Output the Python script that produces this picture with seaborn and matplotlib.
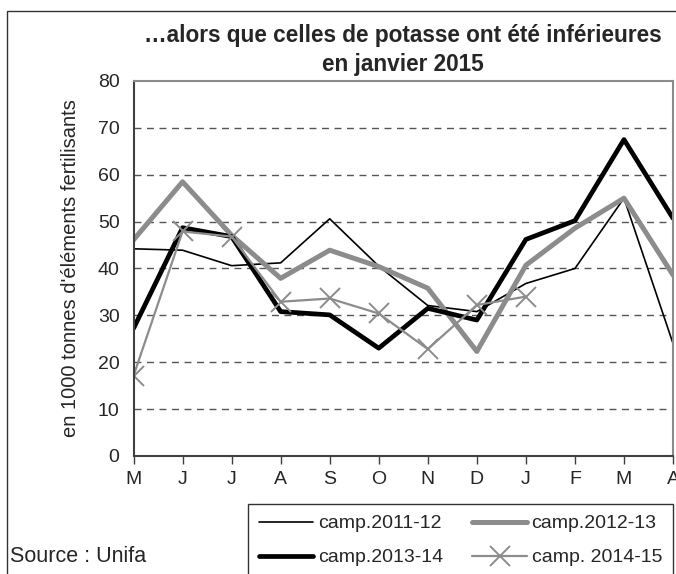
import numpy as np
import pandas as pd
import matplotlib.pyplot as plt
import seaborn as sns
from matplotlib.patches import Rectangle

# data (1000 t of fertilizer elements)
months = ["M", "J", "J", "A", "S", "O", "N", "D", "J", "F", "M", "A"]
camp_2011_12 = [44.2, 43.9, 40.6, 41.2, 50.6, 40.5, 32.1, 30.8, 36.8, 40.0, 55.0, 24.0]
camp_2012_13 = [46.1, 58.5, 47.1, 37.9, 43.9, 40.4, 35.8, 22.3, 40.7, 48.6, 55.0, 38.6]
camp_2013_14 = [27.2, 48.7, 46.8, 30.8, 30.1, 23.0, 31.5, 29.0, 46.2, 50.2, 67.5, 50.7]
camp_2014_15 = [17.1, 47.9, 46.8, 32.9, 33.6, 30.4, 22.8, 32.2, 34.0, np.nan, np.nan, np.nan]

labels = ["camp.2011-12", "camp.2012-13", "camp.2013-14", "camp. 2014-15"]

x = np.arange(len(months))
df = pd.DataFrame({
    "x": np.tile(x, 4),
    "val": camp_2011_12 + camp_2012_13 + camp_2013_14 + camp_2014_15,
    "serie": np.repeat(labels, len(months)),
})

sns.set_style("white")
plt.rcParams['font.family'] = ['Liberation Sans', 'DejaVu Sans']

fig = plt.figure(figsize=(6.76, 5.74), dpi=100)
ax = fig.add_axes([0.1975, 0.2056, 0.7981, 0.6533])

grey = "#8c8c8c"
styles = {
    "camp.2011-12": dict(color="black", linewidth=1.2),
    "camp.2012-13": dict(color=grey, linewidth=3.6),
    "camp.2013-14": dict(color="black", linewidth=3.4),
    "camp. 2014-15": dict(color=grey, linewidth=1.6, marker="x", markersize=14,
                          markeredgewidth=1.4, markeredgecolor=grey),
}
for lab in labels:
    sub = df[df["serie"] == lab].dropna()
    sns.lineplot(data=sub, x="x", y="val", ax=ax, label=lab, **styles[lab])

ax.set_xlim(0, 11)
ax.set_ylim(0, 80)
ax.set_yticks(range(0, 81, 10))
ax.set_xticks(x)
ax.set_xticklabels(months)
ax.set_xlabel("")
ax.set_ylabel("en 1000 tonnes d'éléments fertilisants", fontsize=14.5, labelpad=13)
ax.tick_params(axis="y", direction="inout", length=12, width=1, color="#404040",
               labelsize=14, pad=4)
ax.tick_params(axis="x", direction="out", length=6, width=1, color="#404040",
               labelsize=14, pad=5, bottom=True)

# dashed gridlines
for yv in range(10, 80, 10):
    ax.axhline(yv, color="#555555", linestyle=(0, (5, 4)), linewidth=1, zorder=0)

ax.spines["left"].set_color("#404040")
ax.spines["bottom"].set_color("#404040")
ax.spines["top"].set_color(grey)
ax.spines["right"].set_color(grey)
for s in ax.spines.values():
    s.set_linewidth(1.5)
    s.set_visible(True)

ax.set_title("…alors que celles de potasse ont été inférieures\nen janvier 2015",
             fontsize=16.3, fontweight="bold", pad=7, linespacing=1.35)

# legend filled row by row like the original
h, l = ax.get_legend_handles_labels()
order = [0, 2, 1, 3]
ax.legend([h[i] for i in order], [l[i] for i in order],
          loc="upper left", bbox_to_anchor=(248 / 676, 1 - 504 / 574),
          bbox_transform=fig.transFigure, ncol=2, frameon=True, fancybox=False,
          edgecolor="black", fontsize=14, handlelength=2.8, handletextpad=0.25,
          columnspacing=1.5, labelspacing=0.85, borderpad=0.55, borderaxespad=0)
ax.get_legend().get_frame().set_linewidth(1.0)

fig.text(10 / 676, 1 - 557 / 574, "Source : Unifa", fontsize=15.5, va="center")

# outer frame of the chart area
fig.patches.append(Rectangle((7 / 676, -0.1), 1.2, 1.1 - 11 / 574,
                             transform=fig.transFigure, fill=False,
                             edgecolor="#333333", linewidth=1))

fig.savefig("out.png", dpi=100)
